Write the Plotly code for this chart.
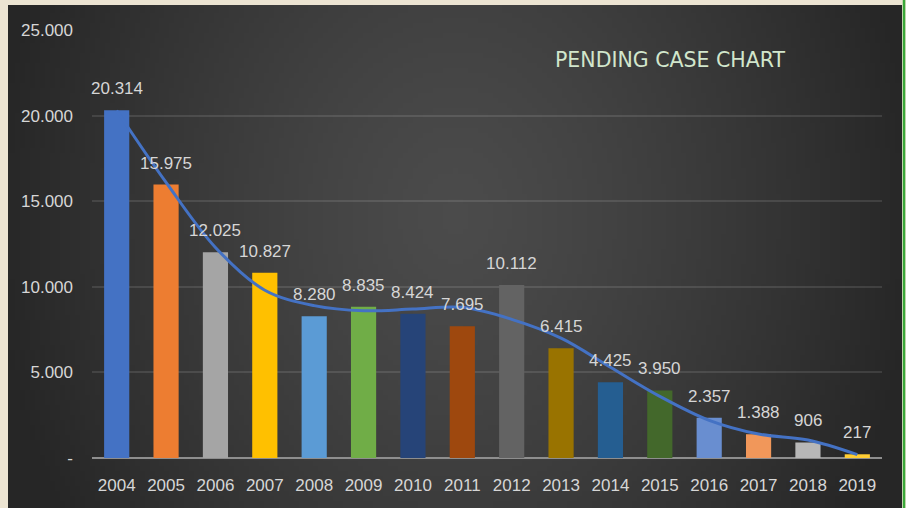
import base64, struct, zlib, math
import plotly.graph_objects as go

# ---------------- data ----------------
years = ["2004", "2005", "2006", "2007", "2008", "2009", "2010", "2011",
         "2012", "2013", "2014", "2015", "2016", "2017", "2018", "2019"]
pending = [20314, 15975, 12025, 10827, 8280, 8835, 8424, 7695,
           10112, 6415, 4425, 3950, 2357, 1388, 906, 217]
value_labels = ["20.314", "15.975", "12.025", "10.827", "8.280", "8.835", "8.424", "7.695",
                "10.112", "6.415", "4.425", "3.950", "2.357", "1.388", "906", "217"]
# smoothed trend line, values at each year
trend_values = [20300, 16100, 12300, 9800, 8900, 8600, 8700, 8800,
                8100, 7000, 5300, 3600, 2200, 1400, 1050, 200]
y_tickvals = [0, 5000, 10000, 15000, 20000, 25000]
y_ticktext = ["-", "5.000", "10.000", "15.000", "20.000", "25.000"]
bar_colors = ["#4472C4", "#ED7D31", "#A5A5A5", "#FFC000", "#5B9BD5", "#70AD47",
              "#264478", "#9E480E", "#636363", "#997300", "#255E91", "#43682B",
              "#698ED0", "#F1975A", "#B7B7B7", "#FFCD33"]
title_text = "PENDING CASE CHART"

# ---------------- background gradient image (generated locally) ----------------
def make_png(w, h):
    rows = []
    for j in range(h):
        row = bytearray([0])
        for i in range(w):
            dx = (i / (w - 1) - 0.5) / 0.52
            dy = (j / (h - 1) - 0.42) / 1.15
            d = min(1.0, math.sqrt(dx * dx + dy * dy))
            v = int(round(0x4B - (0x4B - 0x26) * d ** 1.3))
            row += bytes([v, v, v])
        rows.append(bytes(row))
    raw = b"".join(rows)
    def chunk(t, data):
        c = struct.pack(">I", len(data)) + t + data
        return c + struct.pack(">I", zlib.crc32(t + data) & 0xFFFFFFFF)
    png = b"\x89PNG\r\n\x1a\n"
    png += chunk(b"IHDR", struct.pack(">IIBBBBB", w, h, 8, 2, 0, 0, 0))
    png += chunk(b"IDAT", zlib.compress(raw, 9))
    png += chunk(b"IEND", b"")
    return "data:image/png;base64," + base64.b64encode(png).decode()

bg_src = make_png(180, 100)

W, H = 906, 508
L, R, T, B = 92, 882, 30, 458  # plot area in px
pw, ph = R - L, B - T
def px_x(x):
    return (x - L) / pw
def px_y(y):
    return (B - y) / ph

fig = go.Figure()

fig.add_trace(go.Bar(
    x=years, y=pending,
    marker=dict(color=bar_colors, line=dict(width=0)),
    hoverinfo="x+y",
    showlegend=False,
))

fig.add_trace(go.Scatter(
    x=years, y=trend_values,
    mode="lines",
    line=dict(color="#4472C4", width=3, shape="spline", smoothing=1.0),
    showlegend=False,
    hoverinfo="skip",
))

label_font = dict(family="Liberation Sans, Arial, sans-serif", size=17, color="#d6d6d6")

for i, (val, txt) in enumerate(zip(pending, value_labels)):
    fig.add_annotation(
        x=i, y=val, text=txt, showarrow=False,
        yanchor="bottom", xanchor="center", yshift=10,
        font=label_font,
    )

fig.add_annotation(
    x=px_x(670), y=px_y(60), xref="paper", yref="paper",
    text=title_text, showarrow=False, xanchor="center", yanchor="middle",
    font=dict(family="DejaVu Sans, Verdana, sans-serif", size=20.5, color="#d2e6cc"),
)

fig.add_layout_image(
    source=bg_src, xref="paper", yref="paper",
    x=px_x(8), y=px_y(5), sizex=(902 - 8) / pw, sizey=(508 - 5) / ph,
    xanchor="left", yanchor="top", sizing="stretch", layer="below",
)

fig.add_shape(
    type="line", xref="paper", yref="paper",
    x0=px_x(904), x1=px_x(904), y0=px_y(0), y1=px_y(508),
    line=dict(color="#3aa83a", width=2.5),
)

fig.update_layout(
    width=W, height=H,
    margin=dict(l=L, r=W - R, t=T, b=H - B, pad=0),
    paper_bgcolor="#ece4d2",
    plot_bgcolor="rgba(0,0,0,0)",
    bargap=0.49,
    xaxis=dict(
        type="category",
        range=[-0.5, len(years) - 0.5],
        showgrid=False,
        showline=False,
        zeroline=False,
        tickfont=label_font,
        ticks="",
        ticklabelstandoff=15,
    ),
    yaxis=dict(
        range=[0, 25000],
        tickvals=y_tickvals,
        ticktext=y_ticktext,
        showgrid=True,
        gridcolor="rgba(255,255,255,0.11)",
        gridwidth=1.5,
        zeroline=True,
        zerolinecolor="#8e8e8e",
        zerolinewidth=2,
        showline=False,
        tickfont=label_font,
        ticks="",
        ticklabelstandoff=18,
    ),
)

fig.write_html(
    "out.html",
    config={"displayModeBar": False},
    post_script="document.body.style.margin='0';document.body.style.overflow='hidden';",
)
